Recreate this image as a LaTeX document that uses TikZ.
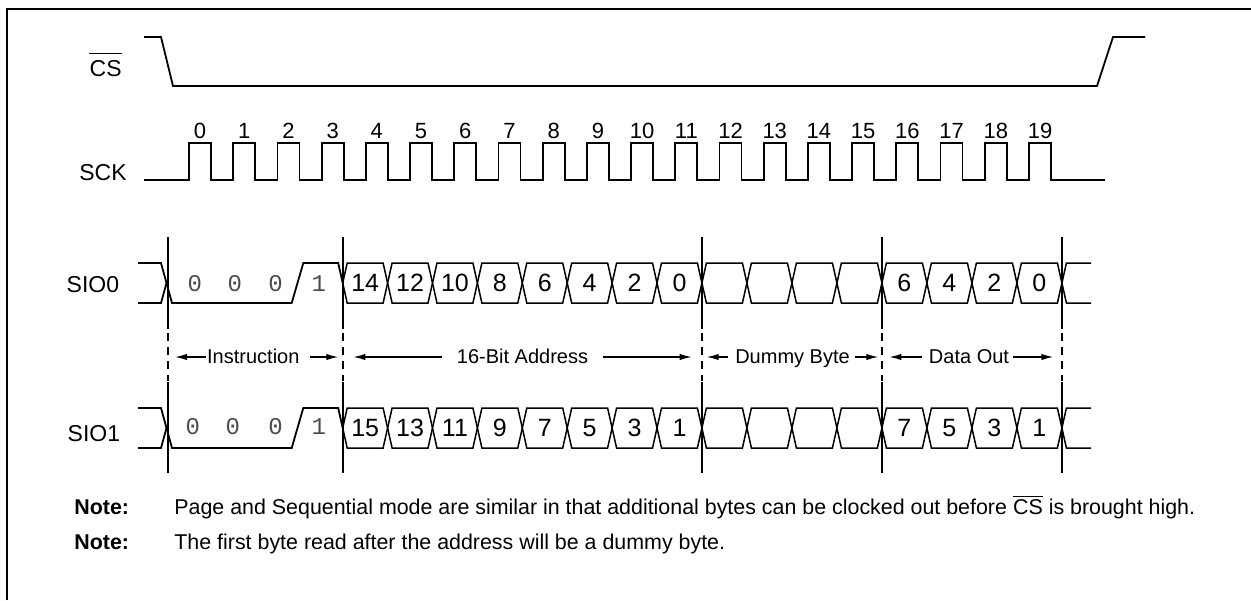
\documentclass[tikz,border=0pt]{standalone}
\usepackage{fontspec}
\setmainfont{Liberation Sans}
\newfontfamily\bitmono{Liberation Mono}
\usetikzlibrary{arrows.meta}
\newcommand{\ovlcs}{\ensuremath{\overline{\mbox{CS}}}}
\begin{document}
\begin{tikzpicture}[x=0.5pt,y=-0.5pt,
  sig/.style={line width=0.9pt, line join=miter},
  bus/.style={line width=0.75pt, line join=miter},
  lbl/.style={font=\fontsize{11.5}{13}\selectfont, anchor=base east, inner sep=0},
  clk/.style={font=\fontsize{11}{13}\selectfont, anchor=base, inner sep=0},
  bit/.style={font=\fontsize{12.5}{14}\selectfont, inner sep=0},
  mbit/.style={font=\bitmono\fontsize{12}{14}\selectfont, text=black!70, inner sep=0, anchor=base},
  span/.style={font=\fontsize{10}{12}\selectfont, inner sep=0, text height=6.5pt, text depth=0pt},
  arr/.style={line width=0.65pt, -{Latex[length=6pt,width=3.2pt]}},
  marker/.style={line width=0.85pt},
  notelbl/.style={font=\bfseries\fontsize{10.7}{12}\selectfont, anchor=base west, inner sep=0},
  notetxt/.style={font=\fontsize{10.7}{12}\selectfont, anchor=base west, inner sep=0}
]
\useasboundingbox (0,0) rectangle (1251,600);
% frame (cropped on right and bottom)
\draw[line width=1pt] (6.5,600) -- (6.5,9) -- (1251,9);

% ---- CS ----
\node[lbl] (cs) at (122,76) {CS};
\draw[line width=0.9pt] ([yshift=3pt]cs.north west) -- ([yshift=3pt]cs.north east);
\draw[sig] (144,37) -- (161,37) -- (173,86) -- (1097,86) -- (1113,37) -- (1145,37);

% ---- SCK ----
\node[lbl] (sck) at (127,180) {SCK};
\draw[sig] (144,180)
  \foreach \k in {0,...,19} { -- ({189+44.21*\k},180) -- ({189+44.21*\k},143) -- ({211+44.21*\k},143) -- ({211+44.21*\k},180) }
  -- (1105,180);
\foreach \k in {0,...,19} \node[clk] (n\k) at ({200+44.21*\k},138) {\k};

% ---- SIO labels ----
\node[lbl] (sio0) at (119.5,292.5) {SIO0};
\node[lbl] (sio1) at (120.5,441.5) {SIO1};

% ---- buses ----
\foreach \dy/\r in {0/0,145/1} {
  % instruction phase
  \draw[sig] (138,263+\dy) -- (161,263+\dy) -- (172,303+\dy) -- (291.7,303+\dy) -- (303.3,263+\dy) -- (338.2,263+\dy) -- (342.7,283+\dy);
  \draw[sig] (138,303+\dy) -- (161,303+\dy) -- (166.5,283+\dy);
  % instruction bits
  \node[mbit] (m\r a) at (194.7-2*\r,291+\dy-1.5*\r) {0};
  \node[mbit] (m\r b) at (234.7-2*\r,291+\dy-1.5*\r) {0};
  \node[mbit] (m\r c) at (275.5,291+\dy-1.5*\r) {0};
  \node[mbit] (m\r d) at (318.7,291+\dy-1.5*\r) {1};
  % address cells
  \foreach \j in {0,...,7} {
    \pgfmathsetmacro\a{342.7+44.9*\j}
    \pgfmathsetmacro\b{\a+44.9}
    \pgfmathtruncatemacro\lab{14-2*\j+\r}
    \draw[bus] (\a,283+\dy) -- (\a+4.5,263+\dy) -- (\b-4.5,263+\dy) -- (\b,283+\dy) -- (\b-4.5,303+\dy) -- (\a+4.5,303+\dy) -- cycle;
    \node[bit] (ad\r\j) at ({(\a+\b)/2},283+\dy) {\lab};
  }
  % dummy cells
  \foreach \j in {0,...,3} {
    \pgfmathsetmacro\a{701.9+45*\j}
    \pgfmathsetmacro\b{\a+45}
    \draw[bus] (\a,283+\dy) -- (\a+4.5,263+\dy) -- (\b-4.5,263+\dy) -- (\b,283+\dy) -- (\b-4.5,303+\dy) -- (\a+4.5,303+\dy) -- cycle;
  }
  % data cells
  \foreach \j in {0,...,3} {
    \pgfmathsetmacro\a{881.9+45*\j}
    \pgfmathsetmacro\b{\a+45}
    \pgfmathtruncatemacro\lab{6-2*\j+\r}
    \draw[bus] (\a,283+\dy) -- (\a+4.5,263+\dy) -- (\b-4.5,263+\dy) -- (\b,283+\dy) -- (\b-4.5,303+\dy) -- (\a+4.5,303+\dy) -- cycle;
    \node[bit] (do\r\j) at ({(\a+\b)/2},283+\dy) {\lab};
  }
  % open end
  \draw[bus] (1091,263+\dy) -- (1066.4,263+\dy) -- (1061.9,283+\dy) -- (1066.4,303+\dy) -- (1091,303+\dy);
}

% ---- phase markers ----
\foreach \x in {167.7,342.7,701.9,881.9,1061.9} {
  \draw[marker] (\x,237) -- (\x,329);
  \draw[marker, dash pattern=on 4pt off 3pt] (\x,333) -- (\x,381);
  \draw[marker] (\x,382) -- (\x,473);
}

% ---- phase spans ----
\node[span] (ins) at (253.3,357) {Instruction};
\coordinate (insL) at (175,357);
\coordinate (insR) at (338.3,357);
\draw[arr] ([xshift=-0.5pt]ins.west) -- (insL);
\draw[arr] ([xshift=5pt]ins.east) -- (insR);

\node[span] (addr) at (522.5,357) {16-Bit Address};
\coordinate (addrL) at (353.3,357);
\coordinate (addrR) at (691.7,357);
\draw[arr] ([xshift=-7.5pt]addr.west) -- (addrL);
\draw[arr] ([xshift=7.5pt]addr.east) -- (addrR);

\node[span] (dum) at (792.5,357) {Dummy Byte};
\coordinate (dumL) at (706.7,357);
\coordinate (dumR) at (878.3,357);
\draw[arr] ([xshift=-3.3pt]dum.west) -- (dumL);
\draw[arr] ([xshift=2.5pt]dum.east) -- (dumR);

\node[span] (dat) at (969,357) {Data Out};
\coordinate (datL) at (889.3,357);
\coordinate (datR) at (1053.3,357);
\draw[arr] ([xshift=-3.3pt]dat.west) -- (datL);
\draw[arr] ([xshift=2pt]dat.east) -- (datR);

% ---- notes ----
\node[notelbl] (note1) at (74,514) {Note:};
\node[notetxt] (text1) at (174,514) {Page and Sequential mode are similar in that additional bytes can be clocked out before \ovlcs{} is brought high.};
\node[notelbl] (note2) at (74,549) {Note:};
\node[notetxt] (text2) at (174,549) {The first byte read after the address will be a dummy byte.};
\end{tikzpicture}
\end{document}
